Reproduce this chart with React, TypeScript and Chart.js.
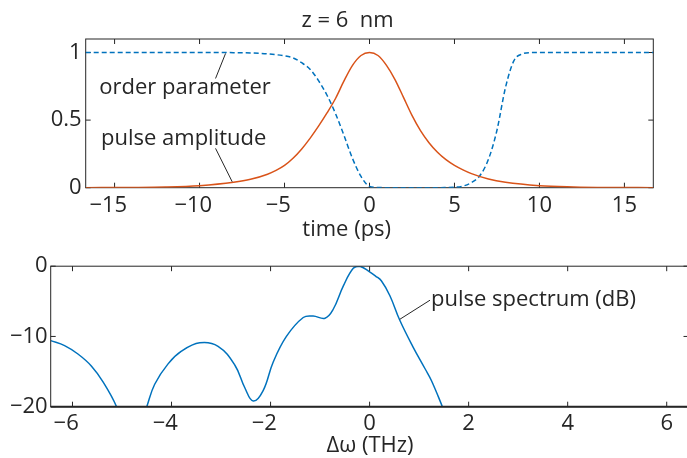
import React, { useEffect, useRef } from "react";
import { Chart, registerables } from "chart.js";

Chart.register(...registerables);

// ---------- data ----------
const pulseTime = [-16.7, -14, -12, -10, -8, -7, -6, -5.5, -5, -4.5, -4, -3.5, -3, -2.5, -2, -1.5, -1, -0.5, 0, 0.5, 1, 1.5, 2, 2.5, 3, 3.5, 4, 4.5, 5, 5.5, 6, 7, 8, 10, 12, 14, 16.7];
const pulseAmplitude = [0.0005, 0.002, 0.005, 0.015, 0.04, 0.062, 0.1, 0.128, 0.165, 0.218, 0.285, 0.365, 0.455, 0.553, 0.66, 0.79, 0.905, 0.978, 1, 0.978, 0.905, 0.8, 0.668, 0.535, 0.422, 0.333, 0.262, 0.207, 0.165, 0.132, 0.104, 0.064, 0.04, 0.015, 0.006, 0.002, 0.0005];

const orderTime = [-16.7, -10, -8, -7, -6, -5, -4.5, -4, -3.5, -3, -2.5, -2, -1.5, -1, -0.5, 0, 0.5, 1, 2, 3, 4, 4.5, 5, 5.5, 6, 6.5, 7, 7.5, 8, 8.5, 9, 9.5, 10, 16.7];
const orderParameter = [1, 1, 0.999, 0.997, 0.99, 0.975, 0.96, 0.925, 0.877, 0.792, 0.684, 0.548, 0.386, 0.216, 0.083, 0.01, 0.002, 0, 0, 0, 0, 0.001, 0.003, 0.012, 0.038, 0.09, 0.21, 0.425, 0.74, 0.94, 0.99, 0.999, 1, 1];

const freqTHz = [-6.44, -6.16, -5.89, -5.62, -5.38, -5.11, -4.8, -4.5, -4.34, -4.07, -3.8, -3.43, -3.06, -2.72, -2.52, -2.35, -2.15, -1.95, -1.68, -1.34, -1.14, -0.9, -0.74, -0.53, -0.33, -0.2, 0.0, 0.12, 0.24, 0.41, 0.61, 0.87, 1.12, 1.25, 1.47, 1.7];
const spectrumDb = [-10.6, -11.3, -12.5, -14.2, -16.5, -20, -26, -20, -16.8, -13.9, -12.1, -10.9, -11.4, -14.1, -17.3, -19.2, -17.7, -13.7, -10.0, -7.3, -7.1, -7.4, -6.2, -2.8, -0.3, 0, -0.8, -1.4, -2.1, -4.2, -7.7, -11.4, -14.6, -16.3, -20, -24];

const timeTicks = [-15, -10, -5, 0, 5, 10, 15];
const ampTicks = [0, 0.5, 1];
const freqTicks = [-6, -4, -2, 0, 2, 4, 6];
const dbTicks = [-20, -10, 0];

// ---------- styling ----------
const FONT = '"Open Sans", "DejaVu Sans", sans-serif';
const INK = "#262626";
const RED = "#D95319";
const BLUE = "#0072BD";
const FS = 22;

function fmt(v: number, hang: boolean): string {
  const s = String(Math.abs(v));
  if (v < 0) return "\u2212" + s + (hang ? "\u2007" : "");
  return s;
}

function drawFrame(chart: any, bottomWidth: number) {
  const { ctx, chartArea: a, scales } = chart;
  const xs = scales.x;
  const ys = scales.y;
  ctx.save();
  ctx.strokeStyle = INK;
  ctx.lineWidth = 1;
  ctx.strokeRect(a.left, a.top, a.right - a.left, a.bottom - a.top);
  if (bottomWidth > 1) {
    ctx.lineWidth = bottomWidth;
    ctx.beginPath();
    ctx.moveTo(a.left, a.bottom);
    ctx.lineTo(a.right, a.bottom);
    ctx.stroke();
    ctx.lineWidth = 1;
  }
  const L = 5;
  ctx.beginPath();
  xs.ticks.forEach((t: any) => {
    const px = xs.getPixelForValue(t.value);
    ctx.moveTo(px, a.bottom);
    ctx.lineTo(px, a.bottom - L);
    ctx.moveTo(px, a.top);
    ctx.lineTo(px, a.top + L);
  });
  ys.ticks.forEach((t: any) => {
    const py = ys.getPixelForValue(t.value);
    ctx.moveTo(a.left, py);
    ctx.lineTo(a.left + L, py);
    ctx.moveTo(a.right, py);
    ctx.lineTo(a.right - L, py);
  });
  ctx.stroke();
  ctx.restore();
}

type Note = { text: string; x: number; y: number; lx1: number; ly1: number; lx2: number; ly2: number };

function drawNotes(chart: any, notes: Note[], size: number) {
  const { ctx, scales } = chart;
  const xs = scales.x;
  const ys = scales.y;
  ctx.save();
  ctx.fillStyle = INK;
  ctx.strokeStyle = INK;
  ctx.lineWidth = 1;
  ctx.font = `${size}px ${FONT}`;
  ctx.textAlign = "left";
  ctx.textBaseline = "alphabetic";
  notes.forEach((n) => {
    ctx.fillText(n.text, xs.getPixelForValue(n.x), ys.getPixelForValue(n.y));
    ctx.beginPath();
    ctx.moveTo(xs.getPixelForValue(n.lx1), ys.getPixelForValue(n.ly1));
    ctx.lineTo(xs.getPixelForValue(n.lx2), ys.getPixelForValue(n.ly2));
    ctx.stroke();
  });
  ctx.restore();
}

function drawLabel(chart: any, text: string, cx: number, baseline: number, size: number) {
  const { ctx } = chart;
  ctx.save();
  ctx.fillStyle = INK;
  ctx.font = `${size}px ${FONT}`;
  ctx.textAlign = "center";
  ctx.textBaseline = "alphabetic";
  ctx.fillText(text, cx, baseline);
  ctx.restore();
}

const topNotes: Note[] = [
  { text: "order parameter", x: -15.9, y: 0.69, lx1: -8.47, ly1: 0.993, lx2: -9.06, ly2: 0.808 },
  { text: "pulse amplitude", x: -15.8, y: 0.315, lx1: -9.06, ly1: 0.291, lx2: -8.08, ly2: 0.044 },
];
const bottomNotes: Note[] = [
  { text: "pulse spectrum (dB)", x: 1.24, y: -5.66, lx1: 1.22, ly1: -4.84, lx2: 0.61, ly2: -7.56 },
];

const W1 = 687, H1 = 250;
const W2 = 692, H2 = 208;

export default function App() {
  const c1 = useRef<HTMLCanvasElement | null>(null);
  const c2 = useRef<HTMLCanvasElement | null>(null);

  useEffect(() => {
    const tickFont = { family: FONT, size: FS };
    const noGrid = { display: false, drawTicks: false };

    const top = new Chart(c1.current as HTMLCanvasElement, {
      type: "line",
      data: {
        datasets: [
          {
            data: pulseTime.map((x, i) => ({ x, y: pulseAmplitude[i] })),
            borderColor: RED,
            borderWidth: 1.5,
            pointRadius: 0,
            cubicInterpolationMode: "monotone",
          },
          {
            data: orderTime.map((x, i) => ({ x, y: orderParameter[i] })),
            borderColor: BLUE,
            borderWidth: 1.5,
            borderDash: [5, 3],
            pointRadius: 0,
            cubicInterpolationMode: "monotone",
          },
        ],
      },
      options: {
        animation: false,
        responsive: false,
        events: [],
        layout: { padding: { top: 39, left: 0, right: 33.7, bottom: 0 } },
        plugins: {
          legend: { display: false },
          tooltip: { enabled: false },
          title: { display: false },
        },
        scales: {
          x: {
            type: "linear",
            min: -16.7,
            max: 16.7,
            grid: noGrid,
            border: { display: false },
            afterBuildTicks: (s: any) => {
              s.ticks = timeTicks.map((v) => ({ value: v }));
            },
            afterFit: (s: any) => {
              s.height = H1 - 187.7;
            },
            ticks: {
              color: INK,
              font: tickFont,
              padding: 5,
              maxRotation: 0,
              autoSkip: false,
              callback: (v: any) => fmt(Number(v), true),
            },
          },
          y: {
            type: "linear",
            min: 0,
            max: 1.1,
            grid: noGrid,
            border: { display: false },
            afterBuildTicks: (s: any) => {
              s.ticks = ampTicks.map((v) => ({ value: v }));
            },
            afterFit: (s: any) => {
              s.width = 85.7;
            },
            ticks: {
              color: INK,
              font: tickFont,
              padding: 4,
              autoSkip: false,
              callback: (v: any) => fmt(Number(v), false),
            },
          },
        },
      },
      plugins: [
        {
          id: "frameTop",
          beforeDatasetsDraw: (chart: any) => drawFrame(chart, 1),
          afterDatasetsDraw: (chart: any) => {
            drawNotes(chart, topNotes, FS);
            drawLabel(chart, "z = 6  nm", 347.5, 26.5, FS);
            drawLabel(chart, "time (ps)", 346.7, 236, FS);
          },
        },
      ],
    } as any);

    const bottom = new Chart(c2.current as HTMLCanvasElement, {
      type: "line",
      data: {
        datasets: [
          {
            data: freqTHz.map((x, i) => ({ x, y: spectrumDb[i] })),
            borderColor: BLUE,
            borderWidth: 1.5,
            pointRadius: 0,
            tension: 0.4,
            clip: 0,
          },
        ],
      },
      options: {
        animation: false,
        responsive: false,
        events: [],
        layout: { padding: { top: 9.3, left: 0, right: W2 - 688.5, bottom: 0 } },
        plugins: {
          legend: { display: false },
          tooltip: { enabled: false },
        },
        scales: {
          x: {
            type: "linear",
            min: -6.44,
            max: 6.44,
            grid: noGrid,
            border: { display: false },
            afterBuildTicks: (s: any) => {
              s.ticks = freqTicks.map((v) => ({ value: v }));
            },
            afterFit: (s: any) => {
              s.height = H2 - 156.7;
            },
            ticks: {
              color: INK,
              font: tickFont,
              padding: 4,
              maxRotation: 0,
              autoSkip: false,
              callback: (v: any) => fmt(Number(v), true),
            },
          },
          y: {
            type: "linear",
            min: -20,
            max: 0,
            grid: noGrid,
            border: { display: false },
            afterBuildTicks: (s: any) => {
              s.ticks = dbTicks.map((v) => ({ value: v }));
            },
            afterFit: (s: any) => {
              s.width = 50.7;
            },
            ticks: {
              color: INK,
              font: tickFont,
              padding: 3,
              autoSkip: false,
              callback: (v: any) => fmt(Number(v), false),
            },
          },
        },
      },
      plugins: [
        {
          id: "frameBottom",
          afterDatasetsDraw: (chart: any) => {
            drawFrame(chart, 2);
            drawNotes(chart, bottomNotes, FS);
            drawLabel(chart, "\u0394\u03c9 (THz)", 370, 202, FS);
          },
        },
      ],
    } as any);

    return () => {
      top.destroy();
      bottom.destroy();
    };
  }, []);

  return (
    <div
      style={{
        position: "absolute",
        left: 0,
        top: 0,
        width: 687,
        height: 458,
        overflow: "hidden",
        background: "#ffffff",
      }}
    >
      <canvas
        ref={c1}
        width={W1}
        height={H1}
        style={{ position: "absolute", left: 0, top: 0, width: W1, height: H1 }}
      />
      <canvas
        ref={c2}
        width={W2}
        height={H2}
        style={{ position: "absolute", left: 0, top: H1, width: W2, height: H2 }}
      />
    </div>
  );
}
